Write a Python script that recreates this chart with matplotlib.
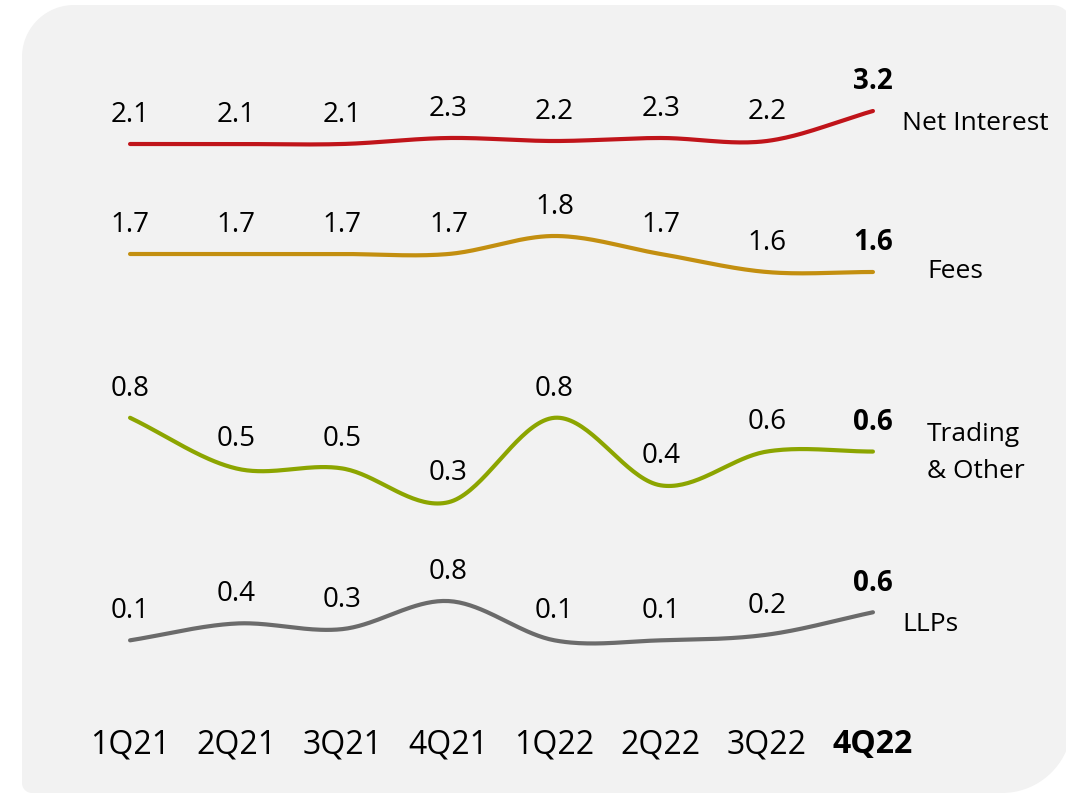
import numpy as np
import matplotlib.pyplot as plt
from matplotlib.patches import PathPatch
from matplotlib.path import Path

plt.rcParams['font.family'] = ['Open Sans', 'DejaVu Sans']

quarters = ["1Q21", "2Q21", "3Q21", "4Q21", "1Q22", "2Q22", "3Q22", "4Q22"]

net_interest = [2.1, 2.1, 2.1, 2.3, 2.2, 2.3, 2.2, 3.2]
fees = [1.7, 1.7, 1.7, 1.7, 1.8, 1.7, 1.6, 1.6]
trading_other = [0.8, 0.5, 0.5, 0.3, 0.8, 0.4, 0.6, 0.6]
llps = [0.1, 0.4, 0.3, 0.8, 0.1, 0.1, 0.2, 0.6]

series_names = ["Net Interest", "Fees", "Trading\n& Other", "LLPs"]
series_values = [net_interest, fees, trading_other, llps]
colors = ["#c0141a", "#c38f10", "#8ca500", "#6b6b6b"]

# each series gets its own band: (y limits, top px, bottom px)
bands = [
    ((1.0, 4.0), 87, 177),
    ((1.4, 2.0), 200, 308),
    ((0.1, 1.0), 384, 536),
    ((-0.5, 1.3), 573, 674),
]
# offsets of the series name from the last point, in points
name_offsets = [(21, -9), (39, 0), (39, -1), (21, -9)]

W, H = 1066, 794
fig = plt.figure(figsize=(W / 100, H / 100), dpi=100)
fig.patch.set_facecolor("white")


def rounded_panel(x0, y0, x1, y1, r_tl, r_tr, r_br, r_bl):
    # outline in pixel coords (y down), each corner with its own radius
    pts = []

    def arc(cx, cy, r, a0, a1):
        for a in np.linspace(a0, a1, 30):
            pts.append((cx + r * np.cos(a), cy + r * np.sin(a)))

    arc(x0 + r_tl, y0 + r_tl, r_tl, np.pi, 1.5 * np.pi)
    arc(x1 - r_tr, y0 + r_tr, r_tr, 1.5 * np.pi, 2 * np.pi)
    arc(x1 - r_br, y1 - r_br, r_br, 0, 0.5 * np.pi)
    arc(x0 + r_bl, y1 - r_bl, r_bl, 0.5 * np.pi, np.pi)
    pts = np.array(pts)
    pts[:, 0] /= W
    pts[:, 1] = 1 - pts[:, 1] / H
    return PathPatch(Path(np.vstack([pts, pts[:1]]), closed=True),
                     transform=fig.transFigure, facecolor="#f2f2f2",
                     edgecolor="none", zorder=0)


fig.add_artist(rounded_panel(22, 5, 1072, 793, 52, 20, 70, 10))


def smooth(xs, ys, n=40):
    # cubic Hermite curve through the points, Catmull-Rom style tangents
    xs = np.asarray(xs, float)
    ys = np.asarray(ys, float)
    m = np.gradient(ys, xs)
    out_x, out_y = [], []
    for i in range(len(xs) - 1):
        t = np.linspace(0, 1, n)
        h = xs[i + 1] - xs[i]
        h00 = 2 * t**3 - 3 * t**2 + 1
        h10 = t**3 - 2 * t**2 + t
        h01 = -2 * t**3 + 3 * t**2
        h11 = t**3 - t**2
        out_x.append(xs[i] + t * h)
        out_y.append(h00 * ys[i] + h10 * h * m[i] + h01 * ys[i + 1] + h11 * h * m[i + 1])
    return np.concatenate(out_x), np.concatenate(out_y)


x = np.arange(len(quarters))
ax_left, ax_right = 77, 926
axes = []
for name, vals, color, (ylim, top, bottom), off in zip(
        series_names, series_values, colors, bands, name_offsets):
    ax = fig.add_axes([ax_left / W, 1 - bottom / H, (ax_right - ax_left) / W,
                       (bottom - top) / H])
    ax.set_xlim(-0.5, len(quarters) - 0.5)
    ax.set_ylim(*ylim)
    ax.axis("off")
    sx, sy = smooth(x, vals)
    ax.plot(sx, sy, color=color, lw=3, solid_capstyle="round", clip_on=False)
    for i, v in enumerate(vals):
        last = i == len(vals) - 1
        ax.annotate(f"{v:.1f}", (x[i], v), xytext=(0, 21), textcoords="offset points",
                    ha="center", va="center", fontsize=20,
                    fontweight="bold" if last else "normal", annotation_clip=False)
    ax.annotate(name, (x[-1], vals[-1]), xytext=off, textcoords="offset points",
                ha="left", va="center", fontsize=19, linespacing=1.65,
                annotation_clip=False)
    axes.append(ax)

# quarter labels under the bottom band
ax = axes[-1]
ax.axis("on")
for s in ax.spines.values():
    s.set_visible(False)
ax.set_yticks([])
ax.set_xticks(x)
ax.set_xticklabels(quarters, fontsize=23)
ax.get_xticklabels()[-1].set_fontweight("bold")
ax.tick_params(axis="x", length=0, pad=39)
ax.patch.set_alpha(0)

fig.savefig("out.png", dpi=100)
